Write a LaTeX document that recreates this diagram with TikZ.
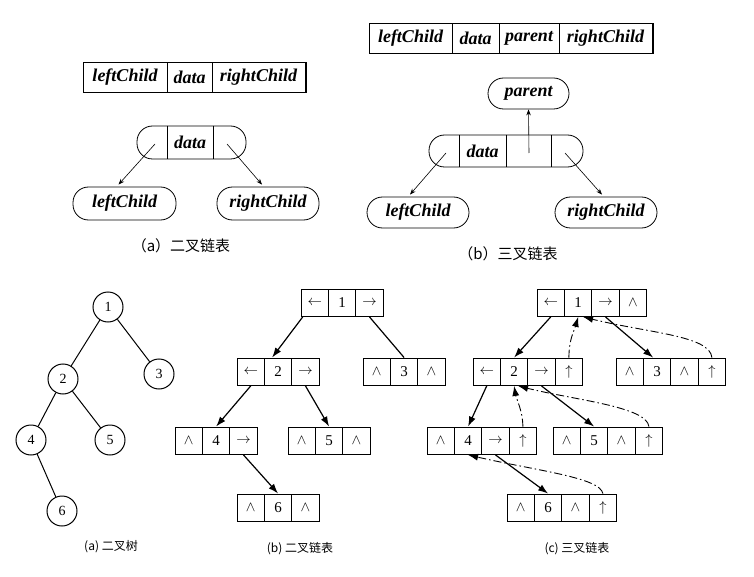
\documentclass[tikz,border=0pt]{standalone}
\usepackage{fontspec}
\setmainfont{Liberation Serif}
\newfontfamily\cjk{Noto Sans CJK SC}
\usetikzlibrary{arrows.meta,calc}
\tikzset{
  cell/.style={draw, line width=0.9pt, minimum width=27.4pt, minimum height=27.5pt, inner sep=0pt, font=\fontsize{15}{17}\selectfont},
  tcell/.style={draw, line width=0.8pt, minimum height=30pt, inner sep=0pt, font=\fontsize{18}{20}\selectfont\bfseries\itshape},
  pill/.style={draw, line width=0.8pt, rounded corners=15.5pt, inner sep=0pt, font=\fontsize{18}{20}\selectfont\bfseries\itshape},
  ptext/.style={inner sep=0pt, font=\fontsize{18}{20}\selectfont\bfseries\itshape},
  tnode/.style={draw, circle, minimum size=30pt, inner sep=0pt, line width=1pt, font=\fontsize{14}{16}\selectfont},
  arr/.style={line width=1.2pt, -{Latex[length=10pt,width=7pt]}},
  plainline/.style={line width=1.2pt},
  parr/.style={line width=0.9pt, dash pattern=on 8pt off 3pt on 1.5pt off 3pt, -{Latex[length=10pt,width=7pt]}},
  sarr/.style={line width=0.6pt, -{Stealth[length=6pt,width=4.5pt]}},
  tedge/.style={line width=1pt},
  captop/.style={inner sep=0pt, font=\cjk\fontsize{15}{17}\selectfont},
  capbot/.style={inner sep=0pt, font=\cjk\fontsize{12}{14}\selectfont},
}
\newcommand\mkrec[4]{%
  \foreach \ct [count=\nn] in {#4}{%
    \node[cell] (#1-\nn) at ({#2+(\nn-0.5)*27.4},{#3+13.75}) {\ct};}}
\begin{document}
\begin{tikzpicture}[x=1pt,y=-1pt]
\useasboundingbox (0,0) rectangle (754,577);
\fill[white] (0,0) rectangle (754,577);

% ---------- top (a) ----------
\node[tcell, minimum width=84pt] (ra1) at (125,77) {leftChild};
\node[tcell, minimum width=45pt] (ra2) at (189.5,77) {data};
\node[tcell, minimum width=93pt] (ra3) at (258.5,77) {rightChild};
\draw[line width=1.6pt] ([xshift=0.8pt]ra1.south west) -- ([xshift=0.8pt]ra3.south east) -- ([xshift=0.8pt]ra3.north east);

\node[pill, minimum width=109pt, minimum height=33pt] (pa) at (191.5,142.5) {};
\draw[line width=0.8pt] ([xshift=-24.5pt]pa.north) -- ([xshift=-24.5pt]pa.south);
\draw[line width=0.8pt] ([xshift=21.5pt]pa.north) -- ([xshift=21.5pt]pa.south);
\node[ptext] (pad) at (190,142.5) {data};

\node[pill, minimum width=103pt, minimum height=33pt] (la) at (124.5,203.5) {leftChild};
\node[pill, minimum width=102pt, minimum height=33pt] (rca) at (268,203.5) {rightChild};
\draw[sarr] ([xshift=-36.5pt,yshift=-1.5pt]pa.center) -- ([xshift=-6pt,yshift=2pt]la.north);
\draw[sarr] ([xshift=35.5pt,yshift=-1.5pt]pa.center) -- ([xshift=-6pt,yshift=2pt]rca.north);
\node[captop] (capa) at (181,246) {（a）二叉链表};

% ---------- top (b) ----------
\node[tcell, minimum width=83pt] (rb1) at (410.5,38) {leftChild};
\node[tcell, minimum width=47pt] (rb2) at (475.5,38) {data};
\node[tcell, minimum width=60pt] (rb3) at (529,38) {parent};
\node[tcell, minimum width=93pt] (rb4) at (605.5,38) {rightChild};
\draw[line width=1.6pt] ([xshift=0.8pt]rb1.south west) -- ([xshift=0.8pt]rb4.south east) -- ([xshift=0.8pt]rb4.north east);

\node[pill, minimum width=81pt, minimum height=31pt] (pp) at (528.5,93.5) {parent};
\node[pill, minimum width=154pt, minimum height=32pt] (pb) at (506,151) {};
\draw[line width=0.8pt] ([xshift=-47pt]pb.north) -- ([xshift=-47pt]pb.south);
\draw[line width=0.8pt] (pb.north) -- (pb.south);
\draw[line width=0.8pt] ([xshift=45pt]pb.north) -- ([xshift=45pt]pb.south);
\node[ptext] (pbd) at (482.5,151) {data};
\node[pill, minimum width=102pt, minimum height=31pt] (lb) at (418,212.5) {leftChild};
\node[pill, minimum width=102pt, minimum height=31pt] (rcb) at (606,212.5) {rightChild};
\draw[sarr] ([xshift=23pt,yshift=-2pt]pb.center) -- (pp.south);
\draw[sarr] ([xshift=-60pt,yshift=-2pt]pb.center) -- ([xshift=-8pt,yshift=2pt]lb.north);
\draw[sarr] ([xshift=59pt,yshift=-2pt]pb.center) -- ([xshift=-4pt,yshift=2pt]rcb.north);
\node[captop] (capb) at (508,254) {（b）三叉链表};

% ---------- bottom (a) tree ----------
\node[tnode] (t1) at (108,307) {1};
\node[tnode] (t2) at (63,379) {2};
\node[tnode] (t3) at (159,374) {3};
\node[tnode] (t4) at (31,440) {4};
\node[tnode] (t5) at (110,440) {5};
\node[tnode] (t6) at (62,511) {6};
\draw[tedge] (t1) -- (t2);
\draw[tedge] (t1) -- (t3);
\draw[tedge] (t2) -- (t4);
\draw[tedge] (t2) -- (t5);
\draw[tedge] (t4) -- (t6);
\node[capbot] (capta) at (111,547) {(a) 二叉树};

% ---------- bottom (b) ----------
\mkrec{B1}{301}{289}{$\leftarrow$,1,$\rightarrow$}
\mkrec{B2}{237}{358}{$\leftarrow$,2,$\rightarrow$}
\mkrec{B3}{363}{358}{$\wedge$,3,$\wedge$}
\mkrec{B4}{175}{427}{$\wedge$,4,$\rightarrow$}
\mkrec{B5}{288}{427}{$\wedge$,5,$\wedge$}
\mkrec{B6}{237}{494}{$\wedge$,6,$\wedge$}
\draw[arr] ([xshift=-12pt]B1-1.south) -- ([xshift=-6pt]B2-2.north);
\draw[plainline] (B1-3.south) -- (B3-2.north);
\draw[arr] (B2-1.south) -- (B4-2.north);
\draw[arr] (B2-3.south) -- (B5-2.north);
\draw[arr] (B4-3.south) -- (B6-2.north);
\node[capbot] (captb) at (300,549) {(b) 二叉链表};

% ---------- bottom (c) ----------
\mkrec{C1}{537}{289}{$\leftarrow$,1,$\rightarrow$,$\wedge$}
\mkrec{C2}{473}{358}{$\leftarrow$,2,$\rightarrow$,$\uparrow$}
\mkrec{C3}{616}{358}{$\wedge$,3,$\wedge$,$\uparrow$}
\mkrec{C4}{427}{427}{$\wedge$,4,$\rightarrow$,$\uparrow$}
\mkrec{C5}{553}{427}{$\wedge$,5,$\wedge$,$\uparrow$}
\mkrec{C6}{507}{494}{$\wedge$,6,$\wedge$,$\uparrow$}
\draw[arr] (C1-1.south) -- (C2-2.north);
\draw[arr] (C1-3.south) -- ([xshift=-4pt]C3-2.north);
\draw[arr] (C2-1.south) -- (C4-2.north);
\draw[arr] (C2-3.south) -- (C5-2.north);
\draw[arr] (C4-3.south) -- (C6-2.north);
\draw[parr] (C2-4.north) .. controls ($(C2-4.north)+(0,-18)$) and ($(C1-2.south)+(-4,14)$) .. (C1-2.south);
\draw[parr] (C3-4.north) .. controls ($(C3-4.north)+(-2,-22)$) and ($(C1-2.south)+(70,16)$) .. ([xshift=5pt]C1-2.south);
\draw[parr] (C4-4.north) .. controls ($(C4-4.north)+(0,-15)$) and ($(C2-2.south)+(2,12)$) .. (C2-2.south);
\draw[parr] (C5-4.north) .. controls ($(C5-4.north)+(-2,-20)$) and ($(C2-2.south)+(60,14)$) .. ([xshift=4pt]C2-2.south);
\draw[parr] (C6-4.north) .. controls ($(C6-4.north)+(-3,-16)$) and ($(C4-2.south)+(70,16)$) .. (C4-2.south);
\node[capbot] (captc) at (577,549) {(c) 三叉链表};
\end{tikzpicture}
\end{document}
